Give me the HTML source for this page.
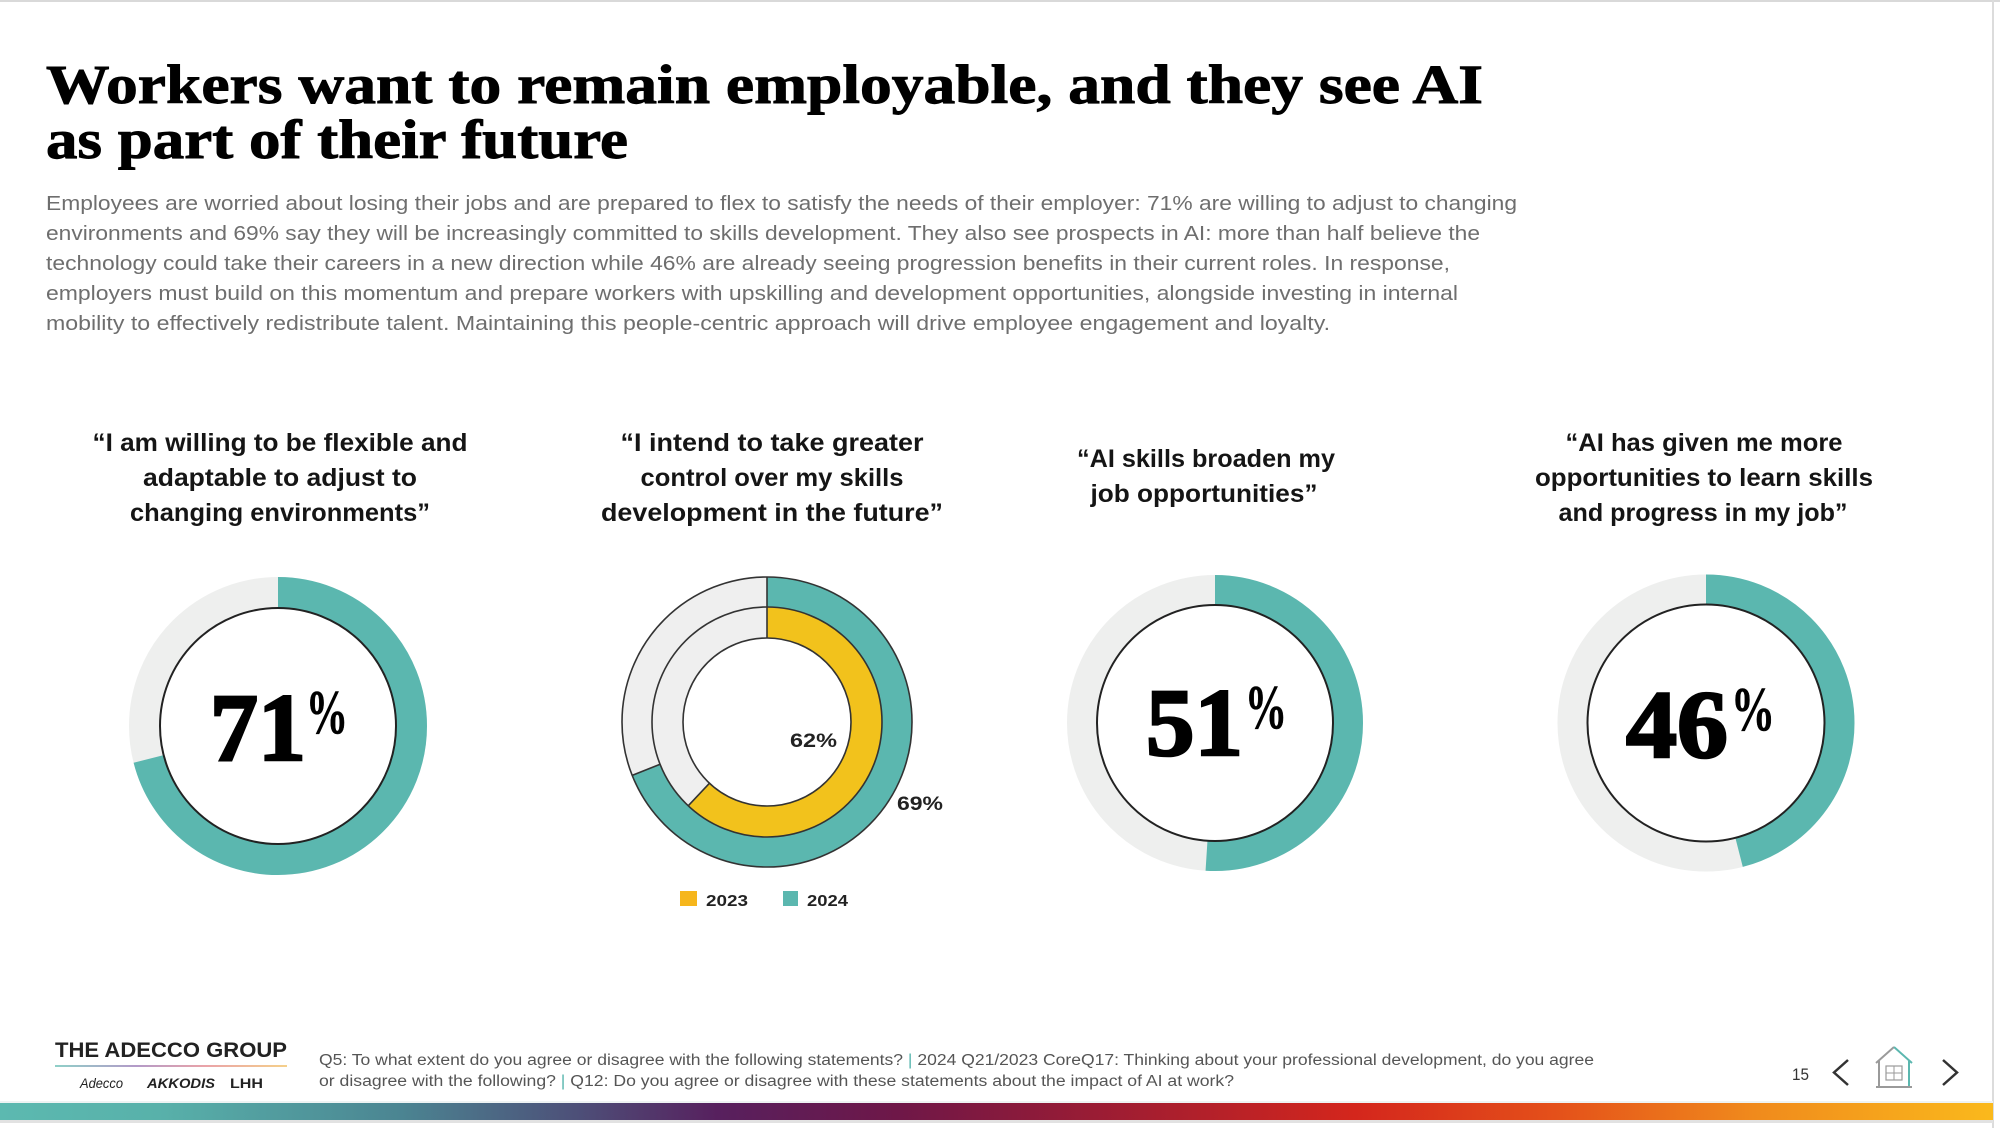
<!DOCTYPE html>
<html>
<head>
<meta charset="utf-8">
<style>
  html,body{margin:0;padding:0;background:#fff;}
  body{width:2000px;height:1128px;overflow:hidden;}
  svg{display:block;}
  .serif{font-family:"Liberation Serif",serif;}
  .sans{font-family:"Liberation Sans",sans-serif;}
</style>
</head>
<body>
<svg width="2000" height="1128" viewBox="0 0 2000 1128" xmlns="http://www.w3.org/2000/svg">
  <defs>
    <linearGradient id="bar" x1="0" y1="0" x2="1" y2="0">
      <stop offset="0" stop-color="#5cb9b0"/>
      <stop offset="0.08" stop-color="#58b1aa"/>
      <stop offset="0.2" stop-color="#4b8592"/>
      <stop offset="0.29" stop-color="#4d4f78"/>
      <stop offset="0.36" stop-color="#57205e"/>
      <stop offset="0.45" stop-color="#6e1748"/>
      <stop offset="0.55" stop-color="#9a1c34"/>
      <stop offset="0.68" stop-color="#d4261c"/>
      <stop offset="0.78" stop-color="#e4501a"/>
      <stop offset="0.88" stop-color="#f08a1c"/>
      <stop offset="1" stop-color="#fab91c"/>
    </linearGradient>
    <linearGradient id="uline" x1="0" y1="0" x2="1" y2="0">
      <stop offset="0" stop-color="#8fd0c8"/>
      <stop offset="0.35" stop-color="#b39ac8"/>
      <stop offset="0.65" stop-color="#eaa3a8"/>
      <stop offset="1" stop-color="#f5d08a"/>
    </linearGradient>
  </defs>

  <!-- frame borders -->
  <rect x="0" y="0" width="2000" height="2" fill="#d9d9d9"/>
  <rect x="1992" y="0" width="2" height="1128" fill="#dcdcdc"/>

  <!-- Title -->
  <g class="serif" font-weight="bold" font-size="55" fill="#000" stroke="#000" stroke-width="0.9">
    <text x="46" y="103" textLength="1437" lengthAdjust="spacingAndGlyphs">Workers want to remain employable, and they see AI</text>
    <text x="46" y="158" textLength="582" lengthAdjust="spacingAndGlyphs">as part of their future</text>
  </g>

  <!-- Paragraph -->
  <g class="sans" font-size="20" fill="#6e6e6e">
    <text x="46" y="210" textLength="1471" lengthAdjust="spacingAndGlyphs">Employees are worried about losing their jobs and are prepared to flex to satisfy the needs of their employer: 71% are willing to adjust to changing</text>
    <text x="46" y="240" textLength="1434" lengthAdjust="spacingAndGlyphs">environments and 69% say they will be increasingly committed to skills development. They also see prospects in AI: more than half believe the</text>
    <text x="46" y="270" textLength="1404" lengthAdjust="spacingAndGlyphs">technology could take their careers in a new direction while 46% are already seeing progression benefits in their current roles. In response,</text>
    <text x="46" y="300" textLength="1412" lengthAdjust="spacingAndGlyphs">employers must build on this momentum and prepare workers with upskilling and development opportunities, alongside investing in internal</text>
    <text x="46" y="330" textLength="1284" lengthAdjust="spacingAndGlyphs">mobility to effectively redistribute talent. Maintaining this people-centric approach will drive employee engagement and loyalty.</text>
  </g>

  <!-- Chart headings -->
  <g class="sans" font-weight="bold" font-size="25" fill="#151515" text-anchor="middle">
    <text x="280" y="451" textLength="375" lengthAdjust="spacingAndGlyphs">“I am willing to be flexible and</text>
    <text x="280" y="486" textLength="274" lengthAdjust="spacingAndGlyphs">adaptable to adjust to</text>
    <text x="280" y="521" textLength="300" lengthAdjust="spacingAndGlyphs">changing environments”</text>

    <text x="772" y="451" textLength="303" lengthAdjust="spacingAndGlyphs">“I intend to take greater</text>
    <text x="772" y="486" textLength="263" lengthAdjust="spacingAndGlyphs">control over my skills</text>
    <text x="772" y="521" textLength="342" lengthAdjust="spacingAndGlyphs">development in the future”</text>

    <text x="1206" y="467" textLength="258" lengthAdjust="spacingAndGlyphs">“AI skills broaden my</text>
    <text x="1204" y="502" textLength="227" lengthAdjust="spacingAndGlyphs">job opportunities”</text>

    <text x="1704" y="451" textLength="277" lengthAdjust="spacingAndGlyphs">“AI has given me more</text>
    <text x="1704" y="486" textLength="338" lengthAdjust="spacingAndGlyphs">opportunities to learn skills</text>
    <text x="1703" y="521" textLength="289" lengthAdjust="spacingAndGlyphs">and progress in my job”</text>
  </g>

  <!-- Donut 1: 71% -->
  <g>
    <circle cx="278" cy="726" r="133.5" fill="none" stroke="#eeefee" stroke-width="31"/>
    <circle cx="278" cy="726" r="133.5" fill="none" stroke="#5bb7af" stroke-width="31"
            stroke-dasharray="595.6 1000" transform="rotate(-90 278 726)"/>
    <circle cx="278" cy="726" r="118" fill="#fff" stroke="#222" stroke-width="2"/>
    <g class="serif" font-weight="bold" fill="#000" stroke="#000" stroke-width="2.6">
      <text x="210" y="760" font-size="96" textLength="96" lengthAdjust="spacingAndGlyphs">71</text>
      <text x="306" y="733" font-size="62" stroke-width="0.6" textLength="42" lengthAdjust="spacingAndGlyphs">%</text>
    </g>
  </g>

  <!-- Donut 2: double ring -->
  <g>
    <circle cx="767" cy="722" r="130" fill="none" stroke="#efefef" stroke-width="30"/>
    <circle cx="767" cy="722" r="130" fill="none" stroke="#5bb7af" stroke-width="30"
            stroke-dasharray="563.6 1000" transform="rotate(-90 767 722)"/>
    <circle cx="767" cy="722" r="99.5" fill="none" stroke="#efefef" stroke-width="31"/>
    <circle cx="767" cy="722" r="99.5" fill="none" stroke="#f2c21c" stroke-width="31"
            stroke-dasharray="387.6 1000" transform="rotate(-90 767 722)"/>
    <g fill="none" stroke="#333" stroke-width="1.6">
      <circle cx="767" cy="722" r="145"/>
      <circle cx="767" cy="722" r="115"/>
      <circle cx="767" cy="722" r="84"/>
      <line x1="767" y1="638" x2="767" y2="577"/>
      <line x1="660.1" y1="764.3" x2="632.1" y2="775.4"/>
      <line x1="709.5" y1="783.2" x2="688.2" y2="805.8"/>
    </g>
    <g class="sans" font-weight="bold" font-size="19" fill="#222">
      <text x="790" y="747" textLength="47" lengthAdjust="spacingAndGlyphs">62%</text>
      <text x="897" y="810" textLength="46" lengthAdjust="spacingAndGlyphs">69%</text>
    </g>
    <rect x="680" y="891" width="17" height="15" fill="#f6b61c"/>
    <rect x="783" y="891" width="15" height="15" fill="#5bb7af"/>
    <g class="sans" font-weight="bold" font-size="16" fill="#222">
      <text x="706" y="906" textLength="42" lengthAdjust="spacingAndGlyphs">2023</text>
      <text x="807" y="906" textLength="41" lengthAdjust="spacingAndGlyphs">2024</text>
    </g>
  </g>

  <!-- Donut 3: 51% -->
  <g>
    <circle cx="1215" cy="723" r="133" fill="none" stroke="#eeefee" stroke-width="30"/>
    <circle cx="1215" cy="723" r="133" fill="none" stroke="#5bb7af" stroke-width="30"
            stroke-dasharray="426.2 1000" transform="rotate(-90 1215 723)"/>
    <circle cx="1215" cy="723" r="118" fill="#fff" stroke="#222" stroke-width="2"/>
    <g class="serif" font-weight="bold" fill="#000" stroke="#000" stroke-width="2.6">
      <text x="1146" y="755" font-size="96" textLength="97" lengthAdjust="spacingAndGlyphs">51</text>
      <text x="1245" y="728" font-size="62" stroke-width="0.6" textLength="42" lengthAdjust="spacingAndGlyphs">%</text>
    </g>
  </g>

  <!-- Donut 4: 46% -->
  <g>
    <circle cx="1706" cy="723" r="133.5" fill="none" stroke="#eeefee" stroke-width="30"/>
    <circle cx="1706" cy="723" r="133.5" fill="none" stroke="#5bb7af" stroke-width="30"
            stroke-dasharray="385.8 1000" transform="rotate(-90 1706 723)"/>
    <circle cx="1706" cy="723" r="118.5" fill="#fff" stroke="#222" stroke-width="2"/>
    <g class="serif" font-weight="bold" fill="#000" stroke="#000" stroke-width="2.6">
      <text x="1626" y="757" font-size="96" textLength="102" lengthAdjust="spacingAndGlyphs">46</text>
      <text x="1731" y="730" font-size="62" stroke-width="0.6" textLength="44" lengthAdjust="spacingAndGlyphs">%</text>
    </g>
  </g>

  <!-- Footer logo -->
  <text class="sans" x="55" y="1057" font-size="21" font-weight="bold" fill="#222" textLength="232" lengthAdjust="spacingAndGlyphs">THE ADECCO GROUP</text>
  <rect x="55" y="1065" width="232" height="2" fill="url(#uline)"/>
  <g class="sans" font-size="14" fill="#222">
    <text x="80" y="1088" font-style="italic" textLength="43" lengthAdjust="spacingAndGlyphs">Adecco</text>
    <text x="147" y="1088" font-style="italic" font-weight="bold" textLength="68" lengthAdjust="spacingAndGlyphs">AKKODIS</text>
    <text x="230" y="1088" font-weight="bold" textLength="33" lengthAdjust="spacingAndGlyphs">LHH</text>
  </g>

  <!-- Footnote -->
  <g class="sans" font-size="15.5" fill="#555">
    <text x="319" y="1065" textLength="1275" lengthAdjust="spacingAndGlyphs">Q5: To what extent do you agree or disagree with the following statements?  <tspan fill="#5bb7af">|</tspan>  2024 Q21/2023 CoreQ17: Thinking about your professional development, do you agree</text>
    <text x="319" y="1086" textLength="915" lengthAdjust="spacingAndGlyphs">or disagree with the following?  <tspan fill="#5bb7af">|</tspan>  Q12: Do you agree or disagree with these statements about the impact of AI at work?</text>
  </g>

  <!-- Page number and nav -->
  <text class="sans" x="1792" y="1080" font-size="17" fill="#333" textLength="17" lengthAdjust="spacingAndGlyphs">15</text>
  <polyline points="1848,1060 1834,1072.5 1848,1085" fill="none" stroke="#333" stroke-width="2.5"/>
  <g fill="none" stroke-width="2">
    <polyline points="1876,1063 1894,1047" stroke="#9a9a9a"/>
    <polyline points="1894,1047 1912,1063" stroke="#5bb7af"/>
    <line x1="1879" y1="1061" x2="1879" y2="1087" stroke="#9a9a9a"/>
    <line x1="1909" y1="1061" x2="1909" y2="1087" stroke="#5bb7af"/>
    <line x1="1876" y1="1087" x2="1912" y2="1087" stroke="#9a9a9a"/>
    <rect x="1886" y="1066" width="16" height="14" stroke="#9a9a9a" stroke-width="1.2"/>
    <line x1="1894" y1="1066" x2="1894" y2="1080" stroke="#9a9a9a" stroke-width="1"/>
    <line x1="1886" y1="1073" x2="1902" y2="1073" stroke="#9a9a9a" stroke-width="1"/>
  </g>
  <polyline points="1943,1060 1957,1072.5 1943,1085" fill="none" stroke="#333" stroke-width="2.5"/>

  <!-- Gradient bar -->
  <rect x="0" y="1101" width="1993" height="2" fill="#eef3f3"/>
  <rect x="0" y="1103" width="1993" height="17" fill="url(#bar)"/>
  <rect x="0" y="1120" width="1993" height="3" fill="#e2e2e2"/>
</svg>
</body>
</html>
